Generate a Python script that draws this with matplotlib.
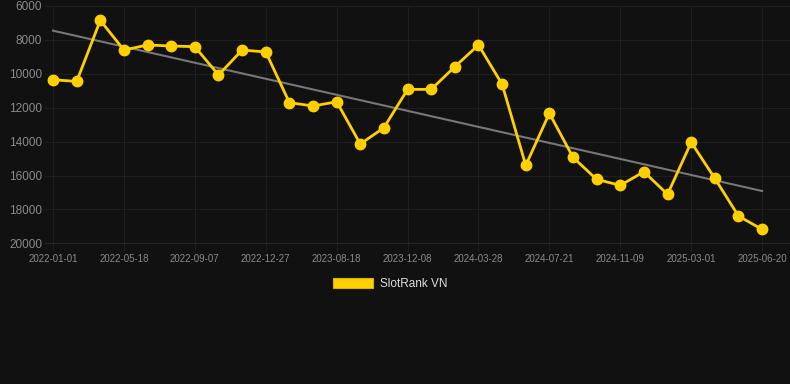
import numpy as np
import matplotlib
matplotlib.use("Agg")
import matplotlib.pyplot as plt
from matplotlib.patches import Patch

plt.rcParams['font.family'] = ['Liberation Sans', 'DejaVu Sans']

series_name = "SlotRank VN"
values = [10350, 10450, 6850, 8600, 8300, 8360, 8400, 10070, 8600, 8710,
          11700, 11900, 11650, 14140, 13180, 10920, 10920, 9580, 8300, 10620,
          15400, 12330, 14930, 16230, 16580, 15780, 17110, 14040, 16170, 18390,
          19180]
tick_labels = ["2022-01-01", "2022-05-18", "2022-09-07", "2022-12-27", "2023-08-18",
               "2023-12-08", "2024-03-28", "2024-07-21", "2024-11-09", "2025-03-01",
               "2025-06-20"]
y_ticks = [6000, 8000, 10000, 12000, 14000, 16000, 18000, 20000]

bg = "#111111"
gold = "#FFD000"
grid_c = "#1e1e1e"
tick_c = "#8a8a8a"

x = np.arange(len(values))
fig = plt.figure(figsize=(7.9, 3.84), dpi=100, facecolor=bg)
ax = fig.add_axes([45/790, 1-243.3/384, 745/790, 237.3/384])
ax.set_facecolor(bg)

# trend line (least squares)
k, b = np.polyfit(x, values, 1)
ax.plot([x[0], x[-1]], [k*x[0]+b, k*x[-1]+b], color="#777777", lw=1.5, zorder=2)

ax.plot(x, values, color=gold, lw=2.0, marker='o', markersize=7.5,
        markerfacecolor=gold, markeredgecolor=gold, zorder=3)

ax.set_ylim(20000, 6000)
ax.set_xlim(-0.34, 31.18)
ax.set_yticks(y_ticks)
ax.set_yticklabels([str(v) for v in y_ticks])
tick_pos = x[::3]
ax.set_xticks(tick_pos)
ax.set_xticklabels(tick_labels)

ax.grid(True, color=grid_c, lw=0.8)
ax.set_axisbelow(True)
for s in ax.spines.values():
    s.set_visible(False)
ax.spines['bottom'].set_visible(True)
ax.spines['bottom'].set_color("#262626")
ax.spines['bottom'].set_linewidth(0.8)
ax.tick_params(axis='y', length=0, pad=2, labelsize=8.5, labelcolor=tick_c)
ax.tick_params(axis='x', length=6, color=grid_c, pad=2, labelsize=7, labelcolor=tick_c)

handle = Patch(facecolor=gold, edgecolor="#d9b000", lw=0.8)
leg = fig.legend([handle], [series_name], loc='center',
                 bbox_to_anchor=(390/790, 1-284/384), frameon=False,
                 fontsize=8.5, handlelength=3.4, handleheight=0.95,
                 handletextpad=0.55, labelcolor="#dddddd")

fig.savefig("out.png", dpi=100, facecolor=bg)
